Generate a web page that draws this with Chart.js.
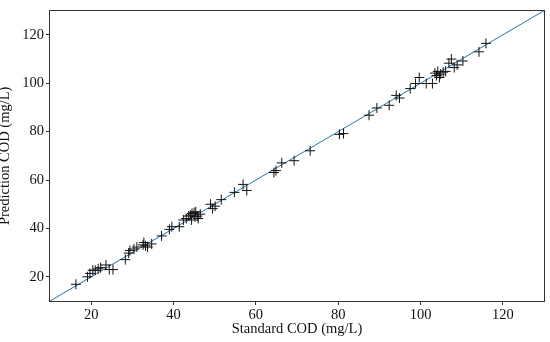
<!DOCTYPE html>
<html>
<head>
<meta charset="utf-8">
<script src="https://cdn.jsdelivr.net/npm/chart.js@4"></script>
<style>
html,body{margin:0;padding:0;background:#fff;}
#wrap{width:550px;height:342px;}
</style>
</head>
<body>
<div id="wrap"><canvas id="c" width="550" height="342"></canvas></div>
<script>
const standardCOD = [16.3,19.1,19.7,20.4,21.0,21.7,22.3,23.6,24.4,25.3,28.3,29.1,29.4,30.4,31.1,32.6,32.8,33.2,33.7,34.7,37.1,39.0,39.6,41.4,42.4,43.1,43.7,44.1,44.4,44.5,45.0,45.2,45.4,45.8,46.0,46.5,49.0,49.5,50.1,51.6,54.8,56.9,57.8,64.4,64.9,66.3,69.3,73.2,80.3,81.3,87.5,89.4,92.4,94.1,94.9,97.5,98.8,99.7,101.4,102.9,103.5,103.9,104.2,104.6,104.9,105.5,106.1,106.9,107.5,108.2,108.9,110.3,114.2,115.9];
const predictedCOD = [16.9,20.0,21.4,22.7,22.7,23.3,23.8,24.9,23.0,23.0,27.1,29.8,30.9,31.5,32.3,33.2,34.2,32.8,32.3,33.6,36.9,39.6,40.7,40.7,43.5,44.1,45.1,45.5,43.5,46.2,46.5,44.8,46.9,45.1,44.1,45.9,50.0,48.2,49.2,51.9,54.9,58.2,55.7,63.1,63.9,67.1,68.0,72.1,78.9,79.2,86.8,89.8,90.9,95.0,93.9,97.8,99.9,102.4,99.9,99.9,104.2,103.2,104.9,102.4,103.8,104.6,104.9,108.3,110.0,106.5,107.6,109.2,113.0,116.5];
const refLineX = [10,130];
const refLineY = [10,130];
const xTicks = [20,40,60,80,100,120];
const yTicks = [20,40,60,80,100,120];
const axisMin = 10, axisMax = 130;

const points = standardCOD.map((x,i)=>({x:x,y:predictedCOD[i]}));
const line = refLineX.map((x,i)=>({x:x,y:refLineY[i]}));

const frame = {
  id:'frame',
  afterDraw(chart){
    const a = chart.chartArea, ctx = chart.ctx;
    ctx.save();
    ctx.strokeStyle = '#333';
    ctx.lineWidth = 1;
    const l = Math.round(a.left)-0.5, t = Math.round(a.top)-0.5;
    const r = Math.round(a.right)+0.5, b = Math.round(a.bottom)+0.5;
    ctx.strokeRect(l,t,r-l,b-t);
    ctx.restore();
  }
};

const font = {family:'"Liberation Serif","Times New Roman",serif', size:14.5};

new Chart(document.getElementById('c'), {
  type:'scatter',
  data:{datasets:[
    {data:points, pointStyle:'cross', radius:5, hoverRadius:5, borderColor:'#111', borderWidth:1, backgroundColor:'#111', order:0},
    {type:'line', data:line, borderColor:'#1f77b4', borderWidth:1, pointRadius:0, fill:false, order:1}
  ]},
  options:{
    responsive:false, animation:false, devicePixelRatio:1,
    layout:{padding:{left:0,right:4,top:9,bottom:0}},
    plugins:{legend:{display:false}, tooltip:{enabled:false}},
    scales:{
      x:{type:'linear', min:axisMin, max:axisMax,
        afterBuildTicks(s){ s.ticks = xTicks.map(v=>({value:v})); },
        afterFit(s){ s.height = 41; },
        grid:{drawOnChartArea:false, drawTicks:true, tickLength:4, color:'#333'},
        border:{display:false},
        ticks:{color:'#111', font:font, padding:1, maxRotation:0, autoSkip:false},
        title:{display:true, text:'Standard COD (mg/L)', color:'#111', font:font, padding:{top:0,bottom:4}}
      },
      y:{type:'linear', min:axisMin, max:axisMax,
        afterBuildTicks(s){ s.ticks = yTicks.map(v=>({value:v})); },
        afterFit(s){ s.width = 50; },
        grid:{drawOnChartArea:false, drawTicks:true, tickLength:4, color:'#333'},
        border:{display:false},
        ticks:{color:'#111', font:font, padding:2, autoSkip:false},
        title:{display:true, text:'Prediction COD (mg/L)', color:'#111', font:font, padding:{top:-4,bottom:0}}
      }
    }
  },
  plugins:[frame]
});
</script>
</body>
</html>
